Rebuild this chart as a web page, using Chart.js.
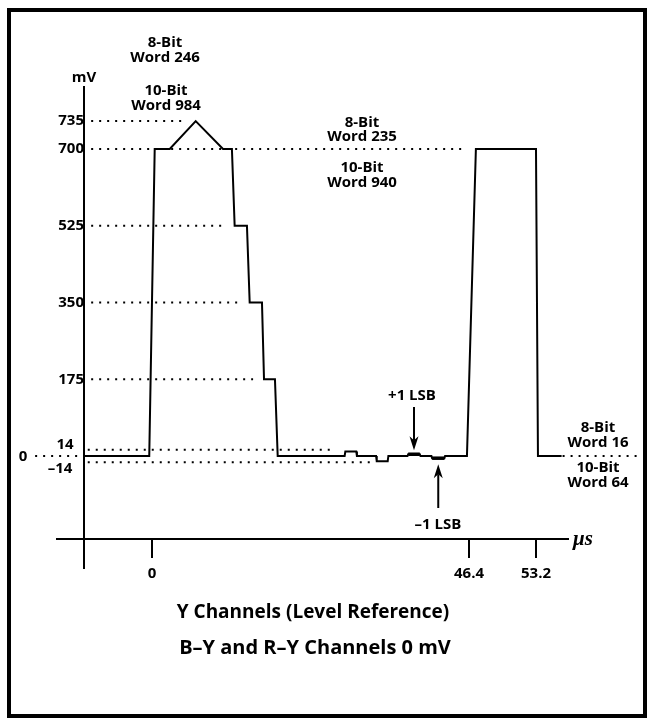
<!DOCTYPE html>
<html>
<head>
<meta charset="utf-8">
<script src="https://cdn.jsdelivr.net/npm/chart.js@4.4.0/dist/chart.umd.min.js"></script>
<style>
  html, body { margin: 0; padding: 0; background: #fff; }
  #wrap { width: 649px; height: 719px; position: relative; }
</style>
</head>
<body>
<div id="wrap"><canvas id="levelChart"></canvas></div>
<script>
// Y channel level reference waveform: time in µs, level in mV
const waveTime  = [-10, -0.4, 0.4, 2.6, 6.4, 10.4, 11.7, 12.1, 13.9, 14.3, 16.1, 16.4, 18.0, 18.4,
                   28.2, 28.3, 29.9, 30.0, 32.8, 32.9, 34.5, 34.6, 37.4, 37.5, 39.2, 39.3,
                   40.9, 41.0, 42.8, 42.9, 46.1, 47.1, 53.2, 53.4, 55.8];
const waveLevel = [0, 0, 700, 700, 735, 700, 700, 525, 525, 350, 350, 175, 175, 0,
                   0, 10, 10, 0, 0, -12, -12, 0, 0, 4, 4, 0,
                   0, -5, -5, 0, 0, 700, 700, 0, 0];

// dotted reference levels (mV) and where each one starts / stops (µs)
const refLevel = [735, 700, 525, 350, 175, 14, -14, 0, 0];
const refFrom  = [-8.9, -8.9, -8.9, -8.9, -8.9, -9.4, -9.4, -17.1, 55.9];
const refTo    = [4.5, 46.1, 10.7, 12.9, 14.8, 26.8, 31.9, -10.5, 64.0];

// the +1 / -1 LSB steps on the black level
const lsbLevel = [4, -5];
const lsbFrom  = [37.5, 41.0];
const lsbTo    = [39.2, 42.8];

const yTicks = [735, 700, 525, 350, 175];
const xTicks = [0, 46.4, 53.2];

// linear scale with one stretched part (the drawing is not to scale there)
class PiecewiseScale extends Chart.LinearScale {
  static id = 'piecewise';
  static defaults = {};
  warp(v) {
    const b = this.options.breakAt, s = this.options.stretch;
    if (v === null || v === undefined || b === undefined) return v;
    return v > b ? b + (v - b) * s : v;
  }
  unwarp(v) {
    const b = this.options.breakAt, s = this.options.stretch;
    if (v === null || v === undefined || b === undefined) return v;
    return v > b ? b + (v - b) / s : v;
  }
  getPixelForValue(v) { return super.getPixelForValue(this.warp(v)); }
  getValueForPixel(p) { return this.unwarp(super.getValueForPixel(p)); }
}
Chart.register(PiecewiseScale);

Chart.defaults.font.family = '"Open Sans", sans-serif';
Chart.defaults.color = '#000';

const datasets = [];
datasets.push({
  data: waveTime.map((t, i) => ({ x: t, y: waveLevel[i] })),
  borderColor: '#000', borderWidth: 2, pointRadius: 0, tension: 0
});
refLevel.forEach((lv, i) => {
  datasets.push({
    data: [{ x: refFrom[i], y: lv }, { x: refTo[i], y: lv }],
    borderColor: '#000', borderWidth: 2, borderDash: [2, 6], pointRadius: 0, clip: false
  });
});
lsbLevel.forEach((lv, i) => {
  datasets.push({
    data: [{ x: lsbFrom[i], y: lv }, { x: lsbTo[i], y: lv }],
    borderColor: '#000', borderWidth: 3.5, pointRadius: 0
  });
});

const boldFont = { family: '"Open Sans", sans-serif', size: 15, weight: 'bold' };

// texts, arrows and frame
const annotate = {
  id: 'annotate',
  afterDraw(chart) {
    const { ctx } = chart;
    const xs = chart.scales.x, ys = chart.scales.y;
    const axisX = xs.getPixelForValue(-9.95);
    ctx.save();
    ctx.fillStyle = '#000';
    ctx.strokeStyle = '#000';

    // frame
    ctx.lineWidth = 4;
    ctx.strokeRect(9, 10, 636, 706);

    ctx.textAlign = 'center';
    ctx.textBaseline = 'middle';
    ctx.font = 'bold 15px "Open Sans"';
    const notes = [
      ['8-Bit', 165, 43], ['Word 246', 165, 58], ['10-Bit', 166, 91], ['Word 984', 166, 106],
      ['mV', axisX, 78],
      ['8-Bit', 362, 123], ['Word 235', 362, 137], ['10-Bit', 362, 168], ['Word 940', 362, 183],
      ['+1 LSB', 412, 396], ['\u20131 LSB', 438, 525],
      ['8-Bit', 598, 428], ['Word 16', 598, 443], ['10-Bit', 598, 468], ['Word 64', 598, 483]
    ];
    notes.forEach(n => ctx.fillText(n[0], n[1], n[2]));

    // small levels next to the axis
    ctx.fillText('14', axisX - 19, ys.getPixelForValue(14) - 5);
    ctx.fillText('\u201314', axisX - 24, ys.getPixelForValue(-14) + 7);
    ctx.fillText('0', 23, ys.getPixelForValue(0) + 1);

    // arrows
    const arrow = (x, y0, y1) => {
      const dir = y1 > y0 ? 1 : -1;
      ctx.lineWidth = 2;
      ctx.beginPath();
      ctx.moveTo(x, y0);
      ctx.lineTo(x, y1 - dir * 10);
      ctx.stroke();
      ctx.beginPath();
      ctx.moveTo(x, y1);
      ctx.lineTo(x - 4.5, y1 - dir * 14);
      ctx.lineTo(x, y1 - dir * 10);
      ctx.lineTo(x + 4.5, y1 - dir * 14);
      ctx.closePath();
      ctx.fill();
    };
    arrow(xs.getPixelForValue(38.35), 407, ys.getPixelForValue(lsbLevel[0]) - 4);
    arrow(xs.getPixelForValue(41.9), 508, ys.getPixelForValue(lsbLevel[1]) + 6);

    // unit of the time axis
    ctx.font = 'italic bold 21px "Liberation Serif"';
    ctx.textAlign = 'left';
    ctx.fillText('\u03bcs', 573, 540);

    // captions
    ctx.textAlign = 'center';
    ctx.font = 'bold 19px "Open Sans"';
    ctx.fillText('Y Channels (Level Reference)', 313, 613);
    ctx.font = 'bold 20px "Open Sans"';
    ctx.fillText('B\u2013Y and R\u2013Y Channels 0 mV', 315, 648);
    ctx.restore();
  }
};

new Chart(document.getElementById('levelChart'), {
  type: 'line',
  data: { datasets: datasets },
  options: {
    responsive: true,
    maintainAspectRatio: false,
    animation: false,
    layout: { padding: { left: 57, top: 87, right: 81, bottom: 151 } },
    plugins: { legend: { display: false }, tooltip: { enabled: false } },
    scales: {
      x: {
        type: 'piecewise',
        min: -13.9, max: 60.89, breakAt: 46.4, stretch: 1.442,
        position: { y: -189.25 },
        afterBuildTicks: s => { s.ticks = xTicks.map(v => ({ value: v })); },
        grid: { display: true, drawOnChartArea: false, drawTicks: true, tickLength: 18, color: '#000', lineWidth: 2 },
        border: { display: true, color: '#000', width: 2 },
        ticks: { color: '#000', font: boldFont, padding: 8, autoSkip: false, maxRotation: 0, callback: v => String(v) }
      },
      y: {
        type: 'piecewise',
        min: -255.4, max: 841.4, breakAt: 700, stretch: 1.82,
        position: { x: -9.95 },
        afterBuildTicks: s => { s.ticks = yTicks.map(v => ({ value: v })); },
        grid: { display: false, drawTicks: false },
        border: { display: true, color: '#000', width: 2 },
        ticks: { color: '#000', font: boldFont, padding: 10, autoSkip: false, callback: v => String(v) }
      }
    }
  },
  plugins: [annotate]
});
</script>
</body>
</html>
